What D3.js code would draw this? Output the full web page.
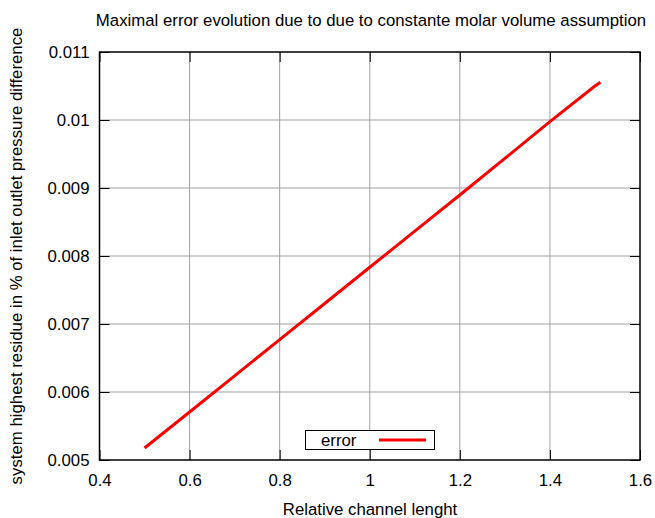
<!DOCTYPE html>
<html>
<head>
<meta charset="utf-8">
<script src="https://cdn.jsdelivr.net/npm/d3@7"></script>
<style>
body { margin: 0; background: #fff; }
text { font-family: "Liberation Sans", Arial, sans-serif; fill: #000; }
</style>
</head>
<body>
<svg id="chart" width="655" height="518"></svg>
<script>
const xValues = [0.5, 0.6, 0.7, 0.8, 0.9, 1.0, 1.1, 1.2, 1.3, 1.4, 1.5, 1.512];
const errorValues = [0.005176, 0.005706, 0.006238, 0.006770, 0.007302, 0.007834, 0.008365, 0.008897, 0.009435, 0.009975, 0.010500, 0.010555];
const xTicks = [0.4, 0.6, 0.8, 1.0, 1.2, 1.4, 1.6];
const yTicks = [0.005, 0.006, 0.007, 0.008, 0.009, 0.010, 0.011];
const seriesName = "error";
const title = "Maximal error evolution due to due to constante molar volume assumption";
const xLabel = "Relative channel lenght";
const yLabel = "system highest residue in % of inlet outlet pressure difference";

const svg = d3.select("#chart");
const L = 99.5, R = 640, T = 52, B = 460;
const x = d3.scaleLinear().domain([0.4, 1.6]).range([L, R]);
const y = d3.scaleLinear().domain([0.005, 0.011]).range([B, T]);
const fs = 16.8;

// grid
svg.append("g").selectAll("line").data(xTicks.slice(1, -1)).join("line")
  .attr("x1", d => x(d)).attr("x2", d => x(d)).attr("y1", T).attr("y2", B)
  .attr("stroke", "#a0a0a0").attr("stroke-width", 1);
svg.append("g").selectAll("line").data(yTicks.slice(1, -1)).join("line")
  .attr("y1", d => y(d)).attr("y2", d => y(d)).attr("x1", L).attr("x2", R)
  .attr("stroke", "#a0a0a0").attr("stroke-width", 1);

// axes (inner ticks on all sides)
const fmtX = d => String(+d.toFixed(1));
const fmtY = d => String(+d.toFixed(3));
const tk = 10;
svg.append("g").attr("transform", `translate(0,${B})`)
  .call(d3.axisBottom(x).tickValues(xTicks).tickSize(-tk).tickFormat(fmtX))
  .call(g => g.select(".domain").remove())
  .call(g => g.selectAll("text").attr("font-size", fs).attr("font-family", "Liberation Sans, Arial").attr("y", 26).attr("dy", 0));
svg.append("g").attr("transform", `translate(0,${T})`)
  .call(d3.axisTop(x).tickValues(xTicks).tickSize(-tk).tickFormat(""))
  .call(g => g.select(".domain").remove());
svg.append("g").attr("transform", `translate(${L},0)`)
  .call(d3.axisLeft(y).tickValues(yTicks).tickSize(-tk).tickPadding(10).tickFormat(fmtY))
  .call(g => g.select(".domain").remove())
  .call(g => g.selectAll("text").attr("font-size", fs).attr("font-family", "Liberation Sans, Arial"));
svg.append("g").attr("transform", `translate(${R},0)`)
  .call(d3.axisRight(y).tickValues(yTicks).tickSize(-tk).tickFormat(""))
  .call(g => g.select(".domain").remove());
svg.selectAll(".tick line").attr("stroke", "#000").attr("stroke-width", 1);

// border
svg.append("rect").attr("x", L).attr("y", T).attr("width", R - L).attr("height", B - T)
  .attr("fill", "none").attr("stroke", "#000").attr("stroke-width", 1.5);

// line
const line = d3.line().x((d, i) => x(xValues[i])).y(d => y(d));
svg.append("path").datum(errorValues).attr("d", line)
  .attr("fill", "none").attr("stroke", "#ff0000").attr("stroke-width", 3);

// legend
const lg = svg.append("g");
lg.append("rect").attr("x", 305.5).attr("y", 430.5).attr("width", 129).attr("height", 19)
  .attr("fill", "#fff").attr("stroke", "#000").attr("stroke-width", 1);
lg.append("text").attr("x", 321).attr("y", 446).attr("font-size", fs).text(seriesName);
lg.append("line").attr("x1", 379).attr("x2", 426).attr("y1", 440).attr("y2", 440)
  .attr("stroke", "#ff0000").attr("stroke-width", 3);

// titles
svg.append("text").attr("x", 371).attr("y", 26).attr("text-anchor", "middle").attr("font-size", fs).text(title);
svg.append("text").attr("x", 370).attr("y", 515).attr("text-anchor", "middle").attr("font-size", fs).text(xLabel);
svg.append("text").attr("transform", "translate(22,256) rotate(-90)").attr("text-anchor", "middle").attr("font-size", fs).text(yLabel);
</script>
</body>
</html>
